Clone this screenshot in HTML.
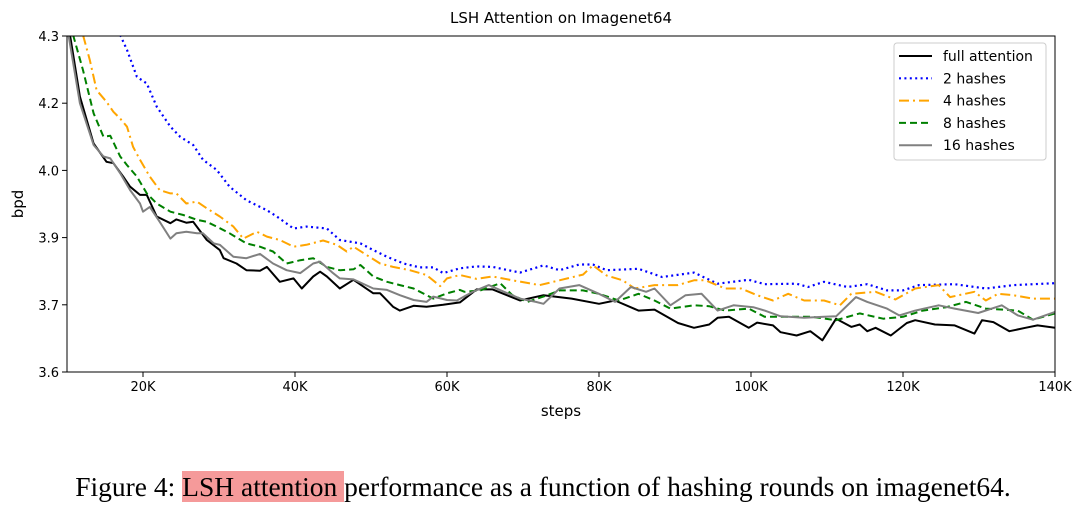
<!DOCTYPE html>
<html><head><meta charset="utf-8">
<style>
html,body{margin:0;padding:0;background:#fff;}
body{width:1080px;height:506px;overflow:hidden;position:relative;}
svg{position:absolute;left:0;top:0;}
.t{font-family:"DejaVu Sans","Liberation Sans",sans-serif;fill:#000;}
#caption{position:absolute;left:0;top:470px;width:1086px;text-align:center;font-family:"Liberation Serif",serif;font-size:27.5px;line-height:34px;color:#000;white-space:nowrap;}
#caption .hl{background:#f59a9a;}
</style></head>
<body>
<svg id="chart" width="1080" height="470" viewBox="0 0 1080 470"></svg>
<div id="caption">Figure 4: <span class="hl">LSH attention </span>performance as a function of hashing rounds on imagenet64.</div>
<script>
const xTicks=[20,40,60,80,100,120,140];
const yTicks=[4.3,4.16,4.02,3.88,3.74,3.6];
const fullK=[10.4,11.7,13.5,15.2,16.1,17.4,18.3,19.6,20.5,21.8,23.6,24.4,25.7,26.6,28.4,30.1,30.6,32.3,33.6,35.4,36.3,38,39.8,40.9,42.4,43.3,44.2,45.9,47.7,50.3,51.2,52.9,53.8,55.6,57.3,59.5,61.7,63.9,66.0,69.6,72.7,76.4,80.0,82.1,85.2,87.3,90.4,92.5,94.5,95.6,97.1,99.7,100.8,102.9,103.9,106.0,107.8,109.4,111.2,113.2,114.3,115.3,116.4,118.4,120.5,121.6,124.2,126.8,129.4,130.4,131.9,134.0,136.1,137.7,140];
const fullV=[4.302,4.174,4.076,4.038,4.035,4.007,3.986,3.969,3.969,3.924,3.910,3.918,3.911,3.913,3.875,3.854,3.837,3.826,3.812,3.811,3.819,3.788,3.795,3.774,3.799,3.809,3.799,3.774,3.792,3.764,3.764,3.736,3.728,3.738,3.736,3.740,3.745,3.772,3.772,3.749,3.760,3.753,3.742,3.749,3.728,3.730,3.702,3.692,3.699,3.713,3.715,3.692,3.703,3.697,3.683,3.676,3.685,3.666,3.711,3.694,3.699,3.685,3.692,3.676,3.702,3.708,3.699,3.697,3.680,3.708,3.704,3.685,3.692,3.697,3.692];
const h2K=[17.0,17.9,19.2,20.5,21.8,23.6,24.9,26.6,27.9,29.7,31.4,33.6,35.4,36.3,37.6,39.8,41.5,44.2,45.9,48.6,50.3,52.1,54.3,56.4,58.2,59.5,61.7,63.9,66.0,69.6,72.7,74.8,77.4,79.2,81.0,85.2,88.3,92.5,95.6,99.7,101.8,106.0,107.5,109.6,112.7,115.3,117.9,120.0,122.1,126.8,130.9,134.6,140];
const h2V=[4.302,4.271,4.215,4.201,4.153,4.111,4.090,4.073,4.042,4.021,3.986,3.958,3.944,3.937,3.924,3.899,3.903,3.899,3.875,3.868,3.854,3.840,3.826,3.818,3.818,3.806,3.816,3.820,3.819,3.807,3.822,3.812,3.824,3.824,3.812,3.815,3.798,3.807,3.784,3.792,3.783,3.784,3.777,3.788,3.777,3.783,3.770,3.770,3.781,3.783,3.774,3.781,3.785];
const h4K=[12.1,13.0,13.9,15.2,16.1,17.0,17.9,18.7,19.6,20.9,22.2,23.6,24.4,25.7,27.1,28.4,30.1,31.9,33.2,35,36.3,38,39.8,41.5,43.7,45.5,46.8,47.7,49.4,51.2,52.9,55.1,57.3,59.1,60,61.7,63.9,66.0,68.6,72.2,74.8,77.9,79.2,81.0,83.1,84.7,87.3,90.4,92.5,94.0,96.6,98.7,100.8,102.9,104.9,107.0,109.6,111.7,113.2,116.4,119.0,121.6,124.7,126.2,129.4,130.9,132.5,134.5,137.1,140];
const h4V=[4.302,4.250,4.187,4.163,4.142,4.128,4.111,4.069,4.042,4.007,3.979,3.972,3.972,3.951,3.955,3.941,3.924,3.903,3.878,3.892,3.882,3.875,3.861,3.865,3.874,3.865,3.851,3.861,3.844,3.826,3.819,3.812,3.802,3.779,3.795,3.802,3.794,3.799,3.791,3.781,3.791,3.803,3.822,3.801,3.791,3.774,3.781,3.781,3.791,3.791,3.774,3.774,3.760,3.749,3.763,3.749,3.749,3.739,3.763,3.767,3.751,3.774,3.781,3.756,3.767,3.749,3.763,3.760,3.753,3.753];
const h8K=[10.8,12.1,13.5,14.8,15.7,17.0,17.9,19.2,20.5,21.8,23.6,25.3,27.1,28.4,29.7,31.4,33.6,35.4,37.1,38.9,40.7,42.4,44.2,45.9,47.7,48.6,50.3,52.1,53.8,55.6,58.2,60,61.7,62.3,64.4,67.0,68.6,70.6,73.2,74.8,77.9,80.0,82.6,85.2,87.3,89.4,92.5,94.5,96.6,99.7,101.8,104.9,108.0,111.2,114.3,117.4,120.0,122.6,125.7,128.3,130.9,135.1,137.1,140];
const h8V=[4.302,4.229,4.139,4.090,4.092,4.049,4.031,4.007,3.972,3.951,3.934,3.927,3.917,3.913,3.903,3.889,3.868,3.861,3.851,3.826,3.833,3.837,3.819,3.812,3.814,3.823,3.799,3.788,3.781,3.774,3.753,3.764,3.771,3.767,3.770,3.785,3.760,3.746,3.760,3.770,3.770,3.763,3.749,3.763,3.749,3.732,3.739,3.737,3.728,3.732,3.715,3.715,3.715,3.708,3.722,3.711,3.715,3.728,3.735,3.746,3.732,3.728,3.709,3.722];
const h16K=[10.2,11.7,13.5,14.8,15.7,17.0,18.3,19.6,20.0,20.9,22.2,23.6,24.4,25.7,27.1,27.9,29.3,30.1,31.9,33.6,35.4,37.1,38.9,40.7,42.4,43.3,45.0,45.9,47.7,50.3,52.1,53.8,55.6,57.3,58.2,60.0,61.3,63.4,65.5,67.5,69.6,71.7,72.7,74.8,77.4,80.0,82.1,84.2,86.2,87.3,89.4,91.4,93.5,95.6,97.7,100.3,101.8,103.9,107.0,109.6,111.2,113.8,115.3,117.9,119.5,121.6,124.7,126.8,129.9,133.0,135.1,137.1,140];
const h16V=[4.302,4.160,4.073,4.049,4.045,4.014,3.979,3.951,3.934,3.944,3.913,3.878,3.889,3.892,3.889,3.889,3.868,3.865,3.840,3.837,3.846,3.826,3.812,3.806,3.826,3.830,3.806,3.795,3.793,3.774,3.771,3.760,3.750,3.746,3.757,3.750,3.749,3.767,3.781,3.767,3.753,3.746,3.742,3.774,3.781,3.763,3.746,3.777,3.767,3.774,3.739,3.760,3.763,3.728,3.739,3.735,3.728,3.716,3.713,3.715,3.716,3.756,3.746,3.732,3.718,3.728,3.739,3.732,3.723,3.739,3.718,3.709,3.725];

const NS="http://www.w3.org/2000/svg";
const svg=document.getElementById('chart');
const L=67,R=1055,T=36,B=372,XMIN=10,XMAX=140,YMIN=3.6,YMAX=4.3;
function sx(k){return L+(k-XMIN)/(XMAX-XMIN)*(R-L);}
function sy(v){return B-(v-YMIN)/(YMAX-YMIN)*(B-T);}
function mk(tag,attrs){const e=document.createElementNS(NS,tag);for(const a in attrs)e.setAttribute(a,attrs[a]);return e;}

const clip=mk('clipPath',{id:'pc'});clip.appendChild(mk('rect',{x:L,y:T,width:R-L,height:B-T}));
const defs=mk('defs',{});defs.appendChild(clip);svg.appendChild(defs);

const title=mk('text',{x:561,y:23,'text-anchor':'middle','font-size':'15',class:'t'});
title.textContent='LSH Attention on Imagenet64';


svg.appendChild(title);

const series=[
 {k:fullK,v:fullV,c:'#000',d:'',w:2,n:'full attention',id:'series-full-attention'},
 {k:h2K,v:h2V,c:'#0000ff',d:'2 3.4',w:2.2,n:'2 hashes',id:'series-2-hashes'},
 {k:h4K,v:h4V,c:'#ffa500',d:'10 4 2 4',w:2,n:'4 hashes',id:'series-4-hashes'},
 {k:h8K,v:h8V,c:'#008000',d:'7 4',w:2,n:'8 hashes',id:'series-8-hashes'},
 {k:h16K,v:h16V,c:'#808080',d:'',w:2,n:'16 hashes',id:'series-16-hashes'}
];
const g=mk('g',{'clip-path':'url(#pc)'});svg.appendChild(g);
series.forEach(s=>{
 let d='';s.k.forEach((k,i)=>{d+=(i?'L':'M')+sx(k).toFixed(1)+','+sy(s.v[i]).toFixed(1);});
 const p=mk('path',{d:d,fill:'none',stroke:s.c,'stroke-width':s.w,'stroke-dasharray':s.d,'stroke-linejoin':'round'});
 
 
 g.appendChild(p);
});

const frame=mk('rect',{x:L,y:T,width:R-L,height:B-T,fill:'none',stroke:'#000','stroke-width':1});


svg.appendChild(frame);

xTicks.forEach(k=>{
 svg.appendChild(mk('line',{x1:sx(k),x2:sx(k),y1:B,y2:B+5,stroke:'#000','stroke-width':1}));
 const t=mk('text',{x:sx(k),y:B+19,'text-anchor':'middle','font-size':'13',class:'t'});
 t.textContent=k+'K';
 
 
 svg.appendChild(t);
});
yTicks.forEach(v=>{
 svg.appendChild(mk('line',{x1:L-5,x2:L,y1:sy(v),y2:sy(v),stroke:'#000','stroke-width':1}));
 const t=mk('text',{x:L-8,y:sy(v)+5,'text-anchor':'end','font-size':'13',class:'t'});
 t.textContent=v.toFixed(1);
 
 
 svg.appendChild(t);
});
const xl=mk('text',{x:561,y:416,'text-anchor':'middle','font-size':'15',class:'t'});
xl.textContent='steps';


svg.appendChild(xl);
const yl=mk('text',{x:0,y:0,'text-anchor':'middle','font-size':'15',class:'t',transform:'translate(23,204) rotate(-90)'});
yl.textContent='bpd';


svg.appendChild(yl);

const lg=mk('g',{});


svg.appendChild(lg);
lg.appendChild(mk('rect',{x:894,y:43,width:152,height:117,rx:3,fill:'#fff',stroke:'#ccc','stroke-width':1}));
series.forEach((s,i)=>{
 const y=56+i*22.3;
 const e=mk('g',{});
 
 
 e.appendChild(mk('line',{x1:899,x2:932,y1:y,y2:y,stroke:s.c,'stroke-width':s.w,'stroke-dasharray':s.d}));
 const t=mk('text',{x:943,y:y+5,'font-size':'14',class:'t'});
 t.textContent=s.n;
 e.appendChild(t);
 lg.appendChild(e);
});
</script>
</body></html>
